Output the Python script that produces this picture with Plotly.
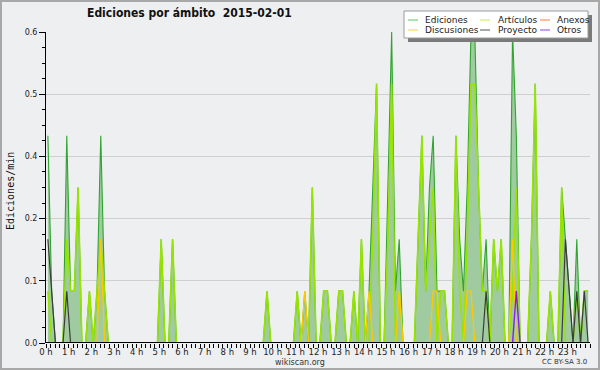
import plotly.graph_objects as go

# ---------------- data (10-minute bins, edits per minute) ----------------
BINS_PER_HOUR = 6
hour_labels = [f"{h} h" for h in range(24)]
y_tick_vals = [0, 0.12, 0.24, 0.36, 0.48, 0.6]
y_tick_text = ["0.0", "0.1", "0.2", "0.4", "0.5", "0.6"]

ediciones = [
    0.4, 0.1, 0, 0, 0, 0.4,   0.1, 0.1, 0.3, 0, 0, 0.1,   0, 0.1, 0.4, 0.1, 0, 0,   0, 0, 0, 0, 0, 0,
    0, 0, 0, 0, 0, 0,         0.2, 0, 0, 0.2, 0, 0,       0, 0, 0, 0, 0, 0,         0, 0, 0, 0, 0, 0,
    0, 0, 0, 0, 0, 0,         0, 0, 0, 0, 0.1, 0,         0, 0, 0, 0, 0, 0,         0.1, 0, 0.1, 0, 0.3, 0,
    0, 0.1, 0.1, 0, 0, 0.1,   0.1, 0, 0, 0.1, 0, 0.2,     0, 0.1, 0.3, 0.5, 0, 0,   0.3, 0.6, 0.1, 0.2, 0, 0,
    0, 0, 0.2, 0.4, 0.1, 0.3, 0.4, 0.1, 0.1, 0.1, 0, 0,   0.4, 0.2, 0.1, 0.3, 0.6, 0.6, 0.3, 0.1, 0.2, 0, 0.2, 0.1,
    0.2, 0, 0, 0.6, 0.4, 0,   0, 0, 0.2, 0.5, 0, 0,       0, 0.1, 0, 0, 0.3, 0.2,   0.1, 0, 0.2, 0, 0.1, 0.1,
]
articulos = [
    0.1, 0, 0, 0, 0, 0.2,     0.1, 0.1, 0.3, 0, 0, 0.1,   0, 0.1, 0.2, 0.1, 0, 0,   0, 0, 0, 0, 0, 0,
    0, 0, 0, 0, 0, 0,         0.2, 0, 0, 0.2, 0, 0,       0, 0, 0, 0, 0, 0,         0, 0, 0, 0, 0, 0,
    0, 0, 0, 0, 0, 0,         0, 0, 0, 0, 0.1, 0,         0, 0, 0, 0, 0, 0,         0.1, 0, 0, 0, 0.3, 0,
    0, 0.1, 0.1, 0, 0, 0.1,   0.1, 0, 0, 0.1, 0, 0.2,     0, 0, 0.2, 0.5, 0, 0,     0.2, 0.5, 0, 0.1, 0, 0,
    0, 0, 0.2, 0.4, 0.1, 0.2, 0.3, 0, 0.1, 0.1, 0, 0,     0.4, 0.1, 0, 0.2, 0.5, 0.5, 0.3, 0.1, 0.1, 0, 0.2, 0.1,
    0.2, 0, 0, 0.1, 0.3, 0,   0, 0, 0.2, 0.5, 0, 0,       0, 0.1, 0, 0, 0.3, 0,     0, 0, 0.1, 0, 0.1, 0.1,
]
discusiones = [
    0, 0, 0, 0, 0, 0,         0, 0, 0, 0, 0, 0,           0, 0, 0.2, 0, 0, 0,       0, 0, 0, 0, 0, 0,
    0, 0, 0, 0, 0, 0,         0, 0, 0, 0, 0, 0,           0, 0, 0, 0, 0, 0,         0, 0, 0, 0, 0, 0,
    0, 0, 0, 0, 0, 0,         0, 0, 0, 0, 0, 0,           0, 0, 0, 0, 0, 0,         0, 0, 0.1, 0, 0, 0,
    0, 0, 0, 0, 0, 0,         0, 0, 0, 0, 0, 0,           0, 0.1, 0, 0, 0, 0,       0, 0, 0, 0.1, 0, 0,
    0, 0, 0, 0, 0, 0,         0.1, 0.1, 0, 0, 0, 0,       0, 0, 0, 0.1, 0.1, 0,     0, 0, 0, 0, 0, 0,
    0, 0, 0, 0.2, 0, 0,       0, 0, 0, 0, 0, 0,           0, 0, 0, 0, 0, 0,         0, 0, 0, 0, 0, 0,
]
proyecto = [
    0.2, 0.1, 0, 0, 0, 0.1,   0, 0, 0, 0, 0, 0,           0, 0, 0, 0, 0, 0,         0, 0, 0, 0, 0, 0,
    0, 0, 0, 0, 0, 0,         0, 0, 0, 0, 0, 0,           0, 0, 0, 0, 0, 0,         0, 0, 0, 0, 0, 0,
    0, 0, 0, 0, 0, 0,         0, 0, 0, 0, 0, 0,           0, 0, 0, 0, 0, 0,         0, 0, 0, 0, 0, 0,
    0, 0, 0, 0, 0, 0,         0, 0, 0, 0, 0, 0,           0, 0, 0, 0, 0, 0,         0, 0, 0, 0, 0, 0,
    0, 0, 0, 0, 0, 0,         0, 0, 0, 0, 0, 0,           0, 0, 0, 0, 0, 0,         0, 0, 0.1, 0, 0, 0,
    0, 0, 0, 0, 0, 0,         0, 0, 0, 0, 0, 0,           0, 0, 0, 0, 0, 0.2,       0.1, 0, 0.1, 0, 0.1, 0,
]
otros = [0] * 124 + [0.1] + [0] * 19
anexos = [0] * 144

bin_hours = [(i + 0.5) / BINS_PER_HOUR for i in range(len(ediciones))]

# ---------------- styling ----------------
W, H = 600, 370
ML, MR, MT, MB = 46, 10, 32, 27
PW, PH = W - ML - MR, H - MT - MB
BG = "#eeeff1"
FONT = "DejaVu Sans"


def px_x(px):
    return (px - ML) / PW


def px_y(py):
    return (H - MB - py) / PH


series = [
    ("Artículos", articulos, "#97e400", 1.6),
    ("Discusiones", discusiones, "#ffc800", 1.3),
    ("Proyecto", proyecto, "#3c3c3c", 1.2),
    ("Otros", otros, "#8a1ee6", 1.4),
    ("Anexos", anexos, "#ff6633", 1.2),
]
legend_items = [
    ("Ediciones", "#5cc45c"), ("Artículos", "#c3ec3c"), ("Anexos", "#ff7a45"),
    ("Discusiones", "#ffcc40"), ("Proyecto", "#555555"), ("Otros", "#9040ee"),
]

fig = go.Figure()
fig.add_trace(go.Scatter(
    x=bin_hours, y=ediciones, mode="lines", name="Ediciones",
    line=dict(color="#2fa52f", width=1.1), fill="tozeroy", fillcolor="#a0cba0",
    showlegend=False,
))
for name, vals, color, w in series:
    fig.add_trace(go.Scatter(
        x=bin_hours, y=vals, mode="lines", name=name,
        line=dict(color=color, width=w), showlegend=False,
    ))

shapes = []
annotations = []

# outer frame
shapes.append(dict(type="rect", xref="paper", yref="paper",
                   x0=px_x(1), x1=px_x(W - 1), y0=px_y(H - 1), y1=px_y(1),
                   line=dict(color="#a8a8a8", width=2), layer="below"))
# x axis baseline drawn over the traces (hides zero-valued segments)
shapes.append(dict(type="line", xref="x", yref="y", x0=0, x1=24, y0=0, y1=0,
                   line=dict(color="#000000", width=2), layer="above"))

# legend box with shadow
shapes.append(dict(type="rect", xref="paper", yref="paper",
                   x0=px_x(408), x1=px_x(592), y0=px_y(42), y1=px_y(15),
                   line=dict(width=0), fillcolor="#7a7a7a", layer="above"))
shapes.append(dict(type="rect", xref="paper", yref="paper",
                   x0=px_x(404), x1=px_x(588), y0=px_y(38), y1=px_y(11),
                   line=dict(color="#9a9a9a", width=1), fillcolor="#ffffff", layer="above"))
col_line_x = [408, 480, 540]
col_text_x = [423, 496, 555]
row_y = [20, 30]
for k, (name, color) in enumerate(legend_items):
    r, c = divmod(k, 3)
    shapes.append(dict(type="line", xref="paper", yref="paper",
                       x0=px_x(col_line_x[c]), x1=px_x(col_line_x[c] + 10),
                       y0=px_y(row_y[r]), y1=px_y(row_y[r]),
                       line=dict(color=color, width=1), layer="above"))
    annotations.append(dict(text=name, xref="paper", yref="paper",
                            x=px_x(col_text_x[c]), y=px_y(row_y[r]),
                            xanchor="left", yanchor="middle", showarrow=False,
                            font=dict(family=FONT, size=9, color="#222222")))

# title and footers
annotations.append(dict(text="<b>Ediciones por ámbito  2015-02-01</b>", xref="paper", yref="paper",
                        x=px_x(85), y=px_y(13), xanchor="left", yanchor="middle",
                        showarrow=False, font=dict(family="DejaVu Sans Condensed", size=12, color="#111111")))
annotations.append(dict(text="wikiscan.org", xref="paper", yref="paper",
                        x=px_x(300), y=px_y(362), xanchor="center", yanchor="middle",
                        showarrow=False, font=dict(family=FONT, size=8, color="#333333")))
annotations.append(dict(text="CC BY-SA 3.0", xref="paper", yref="paper",
                        x=px_x(589), y=px_y(362), xanchor="right", yanchor="middle",
                        showarrow=False, font=dict(family=FONT, size=7, color="#333333")))
annotations.append(dict(text="Ediciones/min", xref="paper", yref="paper",
                        x=px_x(10), y=px_y(191), xanchor="center", yanchor="middle",
                        textangle=-90, showarrow=False,
                        font=dict(family="DejaVu Sans Mono", size=10, color="#111111")))

fig.update_layout(
    width=W, height=H,
    margin=dict(l=ML, r=MR, t=MT, b=MB, pad=0),
    paper_bgcolor=BG, plot_bgcolor=BG,
    showlegend=False,
    shapes=shapes, annotations=annotations,
    xaxis=dict(
        range=[0, 24], tickmode="array", tickvals=list(range(24)), ticktext=hour_labels,
        ticks="", ticklabelstandoff=2, showline=False, showgrid=False, zeroline=False,
        tickfont=dict(family=FONT, size=8.5, color="#222"),
        minor=dict(tickmode="linear", tick0=0, dtick=0.2, ticks="outside", ticklen=4,
                   tickcolor="#000", tickwidth=1, showgrid=False),
    ),
    yaxis=dict(
        range=[0, 0.6], tickmode="array", tickvals=y_tick_vals, ticktext=y_tick_text,
        ticks="outside", ticklen=6, tickcolor="#000", tickwidth=1,
        showline=True, linecolor="#000", linewidth=1,
        showgrid=True, gridcolor="#cfcfcf", gridwidth=1, zeroline=False,
        tickfont=dict(family=FONT, size=8, color="#222"),
        minor=dict(tickmode="linear", tick0=0, dtick=0.03, ticks="outside", ticklen=3,
                   tickcolor="#000", showgrid=False),
    ),
)

fig.write_html(
    "out.html",
    config={"displayModeBar": False},
    post_script="document.body.style.margin='0';document.body.style.overflow='hidden';",
)
